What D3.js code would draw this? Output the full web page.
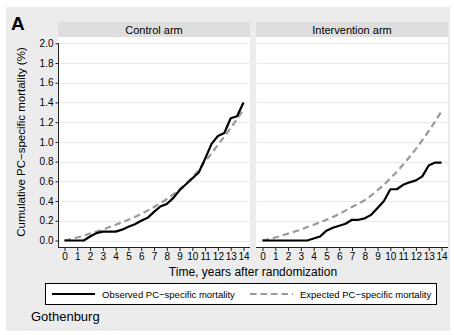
<!DOCTYPE html>
<html>
<head>
<meta charset="utf-8">
<script src="https://cdn.jsdelivr.net/npm/d3@7"></script>
<style>
  body { margin: 0; background: #fff; }
  text { font-family: "Liberation Sans", Arial, sans-serif; fill: #000; }
</style>
</head>
<body>
<div id="chart"></div>
<script>
// ====================== data
var years = [0, 0.5, 1, 1.5, 2, 2.5, 3, 3.5, 4, 4.5, 5, 5.5, 6, 6.5, 7, 7.5, 8, 8.5, 9, 9.5, 10, 10.5, 11, 11.5, 12, 12.5, 13, 13.5, 14];
var controlObserved = [0, 0, 0, 0, 0.04, 0.075, 0.09, 0.09, 0.09, 0.11, 0.14, 0.165, 0.2, 0.23, 0.29, 0.345, 0.37, 0.43, 0.51, 0.57, 0.63, 0.69, 0.83, 0.98, 1.06, 1.09, 1.24, 1.26, 1.40];
var interventionObserved = [0, 0, 0, 0, 0, 0, 0, 0, 0.02, 0.04, 0.10, 0.13, 0.15, 0.17, 0.21, 0.21, 0.225, 0.26, 0.33, 0.40, 0.52, 0.52, 0.565, 0.59, 0.61, 0.65, 0.76, 0.79, 0.79];
var expYears = [0, 1, 2, 3, 4, 5, 6, 7, 8, 9, 10, 11, 12, 13, 14];
var controlExpected = [0, 0.03, 0.07, 0.11, 0.16, 0.21, 0.27, 0.34, 0.42, 0.52, 0.64, 0.80, 0.97, 1.14, 1.33];
var interventionExpected = [0, 0.03, 0.07, 0.11, 0.16, 0.21, 0.27, 0.34, 0.41, 0.51, 0.63, 0.77, 0.93, 1.11, 1.31];
var panels = ['Control arm', 'Intervention arm'];
var yTicks = [0, 0.2, 0.4, 0.6, 0.8, 1.0, 1.2, 1.4, 1.6, 1.8, 2.0];
var xTicks = d3.range(0, 15);
var legendLabels = ['Observed PC\u2212specific mortality', 'Expected PC\u2212specific mortality'];

var width = 454, height = 335;
var svg = d3.select('#chart').append('svg')
    .attr('width', width)
    .attr('height', height);

// background
svg.append('rect').attr('x', 6).attr('y', 7).attr('width', 444).attr('height', 324).attr('fill', '#ececec');

svg.append('text').attr('x', 11).attr('y', 30)
    .style('font-size', '19px').style('font-weight', 'bold').text('A');

var p = { left: 58, top: 22, stripH: 15, w: 192, bottom: 247, gap: 198 };

var y = d3.scaleLinear().domain([0, 2]).range([240.5, 43.3]);

var series = [
    [controlObserved, controlExpected],
    [interventionObserved, interventionExpected]
];

panels.forEach(function (name, i) {
    var ox = p.left + i * p.gap;
    var g = svg.append('g').attr('transform', 'translate(' + ox + ',0)');
    var x = d3.scaleLinear().domain([0, 14]).range([6.5, 185.5]);

    // strip
    g.append('rect').attr('x', 0).attr('y', p.top).attr('width', p.w).attr('height', p.stripH).attr('fill', '#dedede');
    g.append('text').attr('x', p.w / 2).attr('y', p.top + 11.5)
        .attr('text-anchor', 'middle').style('font-size', '11px').text(name);

    // plot region
    g.append('rect').attr('x', 0).attr('y', p.top + p.stripH).attr('width', p.w)
        .attr('height', p.bottom - p.top - p.stripH).attr('fill', '#fff');

    // grid
    g.selectAll('.grid').data(yTicks).enter().append('line')
        .attr('x1', 1).attr('x2', p.w)
        .attr('y1', function (d) { return Math.round(y(d)) + 0.5; })
        .attr('y2', function (d) { return Math.round(y(d)) + 0.5; })
        .attr('stroke', '#eaeaea').attr('stroke-width', 1);

    // x axis
    var xa = g.append('g').attr('transform', 'translate(0,' + p.bottom + ')')
        .call(d3.axisBottom(x).tickValues(xTicks).tickSize(4).tickPadding(2).tickFormat(d3.format('d')));
    xa.select('.domain').attr('d', 'M0,0.5H' + p.w).attr('stroke', '#222');
    xa.selectAll('.tick line').attr('stroke', '#222');
    xa.selectAll('text').style('font-size', '10px')
        .style('font-family', '"Liberation Sans", Arial, sans-serif').attr('fill', '#000');

    if (i === 0) {
        var ya = g.append('g').attr('transform', 'translate(0.5,0)')
            .call(d3.axisLeft(y).tickValues(yTicks).tickSize(3).tickPadding(2).tickFormat(d3.format('.1f')));
        ya.select('.domain').attr('d', 'M0,' + y(2) + 'V' + p.bottom).attr('stroke', '#222');
        ya.selectAll('.tick line').attr('stroke', '#222');
        ya.selectAll('text').style('font-size', '10px')
            .style('font-family', '"Liberation Sans", Arial, sans-serif').attr('fill', '#000');
    }

    var lineObs = d3.line().x(function (d, k) { return x(years[k]); }).y(function (d) { return y(d); });
    var lineExp = d3.line().x(function (d, k) { return x(expYears[k]); }).y(function (d) { return y(d); }).curve(d3.curveMonotoneX);

    g.append('path').datum(series[i][1]).attr('d', lineExp)
        .attr('fill', 'none').attr('stroke', '#9a9a9a').attr('stroke-width', 2.2)
        .attr('stroke-dasharray', '6.5,4');
    g.append('path').datum(series[i][0]).attr('d', lineObs)
        .attr('fill', 'none').attr('stroke', '#000').attr('stroke-width', 2.2)
        .attr('stroke-linejoin', 'round');
});

// axis titles
svg.append('text').attr('transform', 'translate(25,142) rotate(-90)')
    .attr('text-anchor', 'middle').style('font-size', '11.5px')
    .text('Cumulative PC\u2212specific mortality (%)');
svg.append('text').attr('x', 253).attr('y', 276)
    .attr('text-anchor', 'middle').style('font-size', '12px')
    .text('Time, years after randomization');

// legend
var lg = svg.append('g');
lg.append('rect').attr('x', 45.5).attr('y', 283.5).attr('width', 391).attr('height', 21)
    .attr('fill', '#fff').attr('stroke', '#000').attr('stroke-width', 1);
var legendItems = [
    { x: 52, color: '#000', dash: null },
    { x: 250, color: '#9a9a9a', dash: '6.5,4' }
];
legendItems.forEach(function (d, i) {
    lg.append('line').attr('x1', d.x).attr('x2', d.x + 43).attr('y1', 294).attr('y2', 294)
        .attr('stroke', d.color).attr('stroke-width', 2.2).attr('stroke-dasharray', d.dash);
    lg.append('text').attr('x', d.x + 50).attr('y', 297.5).style('font-size', '9.5px').text(legendLabels[i]);
});

svg.append('text').attr('x', 31).attr('y', 321).style('font-size', '13px').text('Gothenburg');
</script>
</body>
</html>
